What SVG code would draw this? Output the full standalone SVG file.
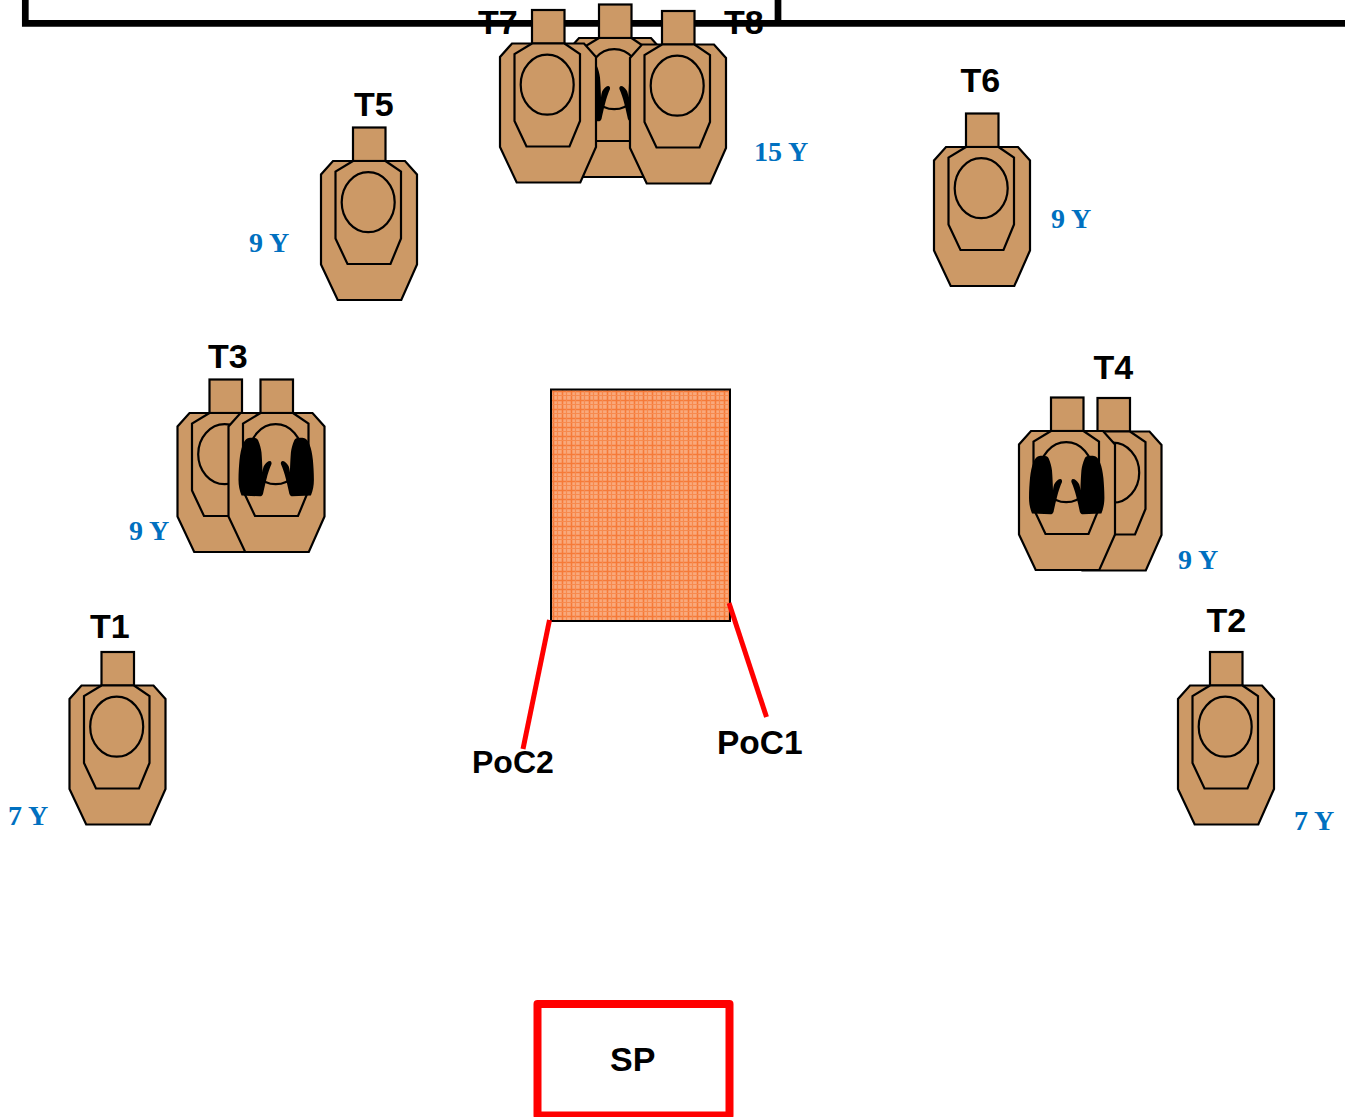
<svg xmlns="http://www.w3.org/2000/svg" xmlns:xlink="http://www.w3.org/1999/xlink" width="1345" height="1117" viewBox="0 0 1345 1117">
<style>
.s{fill:#cc9966;stroke:#000;stroke-width:2.2;stroke-linejoin:miter}
.i{fill:none;stroke:#000;stroke-width:2.2}
.t{font-family:"Liberation Sans",Arial,sans-serif;font-weight:bold;font-size:34px;fill:#000}
.y{font-family:"Liberation Serif","Times New Roman",serif;font-weight:bold;font-size:28px;fill:#0070c0}
.r{stroke:#ff0000;fill:none;stroke-linejoin:round}
</style>
<defs>
<pattern id="h" width="9" height="9" patternUnits="userSpaceOnUse" x="551" y="389">
<rect width="9" height="9" fill="#f9a97c"/>
<path d="M2.500 0V9M0 2.500H9" stroke="#f67a38" stroke-width="1.600"/>
<path d="M6.500 0V9M0 6.500H9" stroke="#f78a4e" stroke-width="1.200"/>
</pattern>
<g id="target">
<rect class="s" x="0" y="0" width="32.500" height="33.500"/>
<path class="s" d="M-20 33.500H52L64 47V137L48.300 172.500H-15.300L-32 137V47Z"/>
<path class="i" d="M0 33.500L-17.500 44V111L-5.500 136.500H37.500L48 111V44L32.500 33.500"/>
<ellipse class="i" cx="15.200" cy="74.700" rx="26.500" ry="30"/>
</g>
<path id="hand" fill="#000" d="M-10.500 58.300C-6 57.800-3.500 58.500-2.500 60.500C-.5 65 .5 69 1 73C1.500 79 1.800 86 2 93C2.300 90 2.600 87.500 4 85.500C5.500 83.500 7.300 81.500 9.500 81.500C10.800 81.800 11.200 83 11 84.500C9 89 7.300 94 6 99.500C4.500 105 3.500 110 2.500 114.500C1.500 116.800 .5 116.800-.5 116.800L-19 116C-21 111-22 106-22 100.500C-22 93-21.500 86-21 80.500C-20.300 74-19.300 69-17.800 65.500C-16 60.500-13.500 58.500-10.500 58.300Z"/>
<g id="hands">
<use xlink:href="#hand"/>
<use xlink:href="#hand" transform="matrix(-1 0 0 1 31.400 0)"/>
</g>
</defs>

<g id="range-wall" fill="none" stroke="#000" stroke-width="6.700">
<path d="M25.300 0V23.300H778V0M778 23.300H1345"/>
</g>

<g id="T7-T8-group">
<text class="t" x="478" y="34">T7</text>
<text class="t" x="724" y="34">T8</text>
<g id="target-mid"><use xlink:href="#target" x="599" y="4.500"/><use xlink:href="#hands" x="599" y="4.500"/></g>
<g id="T7"><use xlink:href="#target" x="532" y="10"/></g>
<g id="T8"><use xlink:href="#target" x="662" y="11"/></g>
<text class="y" x="754" y="161">15 Y</text>
</g>

<g id="T5"><use xlink:href="#target" x="353" y="127.500"/>
<text class="t" x="354" y="116">T5</text><text class="y" x="249" y="252">9 Y</text></g>

<g id="T6"><use xlink:href="#target" x="966" y="113.500"/>
<text class="t" x="960.500" y="92">T6</text><text class="y" x="1051" y="228">9 Y</text></g>

<g id="T3"><use xlink:href="#target" x="209.500" y="379.500"/><use xlink:href="#target" x="260.500" y="379.500"/><use xlink:href="#hands" x="260.500" y="379.500"/>
<text class="t" x="208" y="368">T3</text><text class="y" x="129" y="540">9 Y</text></g>

<g id="T4"><use xlink:href="#target" x="1097.500" y="398"/><use xlink:href="#target" x="1051" y="397.500"/><use xlink:href="#hands" x="1051" y="397.500"/>
<text class="t" x="1093.500" y="379">T4</text><text class="y" x="1178" y="569">9 Y</text></g>

<g id="T1"><use xlink:href="#target" x="101.500" y="652"/>
<text class="t" x="90" y="638">T1</text><text class="y" x="8" y="825">7 Y</text></g>

<g id="T2"><use xlink:href="#target" x="1210" y="652"/>
<text class="t" x="1206.500" y="632">T2</text><text class="y" x="1294" y="830">7 Y</text></g>

<g id="barrier"><rect x="551" y="389.500" width="179" height="231.500" fill="url(#h)" stroke="#000" stroke-width="2"/></g>

<g id="connectors">
<path class="r" stroke-width="5" d="M549.500 620L523 749"/>
<path class="r" stroke-width="5" d="M729 603L766.500 717"/>
</g>
<g id="PoC2"><text class="t" x="472" y="773" style="font-size:32px">PoC2</text></g>
<g id="PoC1"><text class="t" x="717" y="753.500" style="font-size:33.500px">PoC1</text></g>

<g id="SP"><rect class="r" x="537.500" y="1004" width="192" height="111.500" stroke-width="8"/>
<text class="t" x="610" y="1071">SP</text></g>
</svg>
